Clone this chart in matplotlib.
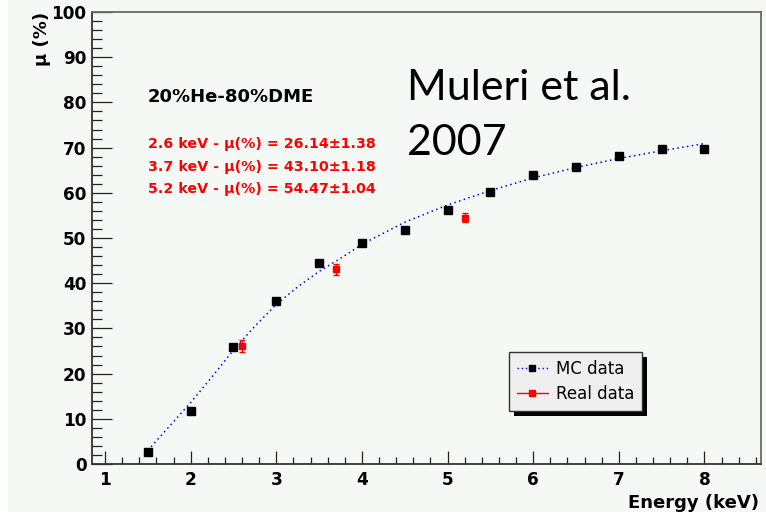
import matplotlib
matplotlib.use("Agg")
import matplotlib.pyplot as plt
from matplotlib.lines import Line2D
from matplotlib.patches import Rectangle

# Monte Carlo modulation factor vs energy
mc_energy = [1.5, 2.0, 2.5, 3.0, 3.5, 4.0, 4.5, 5.0, 5.5, 6.0, 6.5, 7.0, 7.5, 8.0]
mc_mu = [2.6, 11.8, 25.9, 36.0, 44.5, 49.0, 51.8, 56.2, 60.2, 63.9, 65.6, 68.2, 69.7, 69.8]

# Fitted trend through the MC points
fit_energy = [1.5, 2.0, 2.25, 2.5, 2.75, 3.0, 3.25, 3.5, 3.75, 4.0, 4.5, 5.0, 5.5, 6.0, 6.5, 7.0, 7.5, 8.0]
fit_mu = [3.0, 13.6, 19.3, 25.2, 30.5, 35.3, 39.2, 42.6, 45.5, 48.6, 53.5, 57.3, 60.5, 63.3, 65.6, 67.6, 69.3, 70.9]

# Measured values
real_energy = [2.6, 3.7, 5.2]
real_mu = [26.14, 43.10, 54.47]
real_err = [1.38, 1.18, 1.04]

x_ticks = [1, 2, 3, 4, 5, 6, 7, 8]
y_ticks = [0, 10, 20, 30, 40, 50, 60, 70, 80, 90, 100]

BG = "#f5f9f6"
W, H = 766, 517

fig = plt.figure(figsize=(W / 100, H / 100), dpi=100, facecolor=BG)
ax = fig.add_axes([92 / W, 1 - 464 / H, (761 - 92) / W, (464 - 12) / H])
ax.set_facecolor(BG)

ax.plot(fit_energy, fit_mu, linestyle=(0, (1, 2.2)), color="#0000ff", lw=1.1, zorder=2)
ax.plot(mc_energy, mc_mu, linestyle="none", marker="s", ms=5.3, color="black", zorder=3)
ax.errorbar(real_energy, real_mu, yerr=real_err, fmt="s", ms=5.0, color="#ff0000",
            ecolor="#ff0000", elinewidth=1.0, capsize=2.5, capthick=1.0, zorder=4)

ax.set_xlim(0.848, 8.66)
ax.set_ylim(0, 100)
ax.set_xticks(x_ticks)
ax.set_yticks(y_ticks)
ax.set_xticks([v / 10 for v in range(10, 87, 2)], minor=True)
ax.set_yticks(list(range(0, 101, 2)), minor=True)

ax.tick_params(axis="x", which="major", direction="in", length=9.5, width=0.9,
               color="#222222", pad=5, top=False)
ax.tick_params(axis="x", which="minor", direction="in", length=4.7, width=0.9,
               color="#222222", top=False)
ax.tick_params(axis="y", which="major", direction="in", length=14.5, width=0.9,
               color="#222222", pad=4, right=False)
ax.tick_params(axis="y", which="minor", direction="in", length=7.2, width=0.9,
               color="#222222", right=False)
for lab in ax.get_xticklabels() + ax.get_yticklabels():
    lab.set_fontweight("bold")
    lab.set_fontsize(12.2)
    lab.set_fontfamily("DejaVu Sans")

for side in ("left", "bottom"):
    ax.spines[side].set_color("#333333")
    ax.spines[side].set_linewidth(1.3)
for side in ("top", "right"):
    ax.spines[side].set_color("#6a6a6a")
    ax.spines[side].set_linewidth(1.3)

# axis titles
fig.text(759 / W, 1 - 508 / H, "Energy (keV)", ha="right", va="baseline",
         fontsize=13, fontweight="bold", family="DejaVu Sans")
fig.text(42 / W, 1 - 12 / H, "\u03bc (%)", ha="center", va="top", rotation=90,
         fontsize=13, fontweight="bold", family="DejaVu Sans")

# annotations
fig.text(148 / W, 1 - 102 / H, "20%He-80%DME", ha="left", va="baseline",
         fontsize=13, fontweight="bold", family="DejaVu Sans")
lines = [f"{e} keV - \u03bc(%) = {m:.2f}\u00b1{s:.2f}" for e, m, s in zip(real_energy, real_mu, real_err)]
for i, txt in enumerate(lines):
    fig.text(148 / W, 1 - (148 + 22.5 * i) / H, txt, ha="left", va="baseline",
             fontsize=10.3, fontweight="bold", color="#ff0000", family="DejaVu Sans")

fig.text(407 / W, 1 - 100 / H, "Muleri et al.", ha="left", va="baseline",
         fontsize=31, family="Lato", color="black")
fig.text(407 / W, 1 - 155 / H, "2007", ha="left", va="baseline",
         fontsize=31, family="Lato", color="black")

# legend
handles = [
    Line2D([], [], color="#0000ff", linestyle=(0, (1, 2)), lw=1.0, marker="s", ms=4.5,
           markerfacecolor="black", markeredgecolor="black"),
    Line2D([], [], color="#ff0000", linestyle="-", lw=1.0, marker="s", ms=4.5,
           markerfacecolor="#ff0000", markeredgecolor="#ff0000"),
]
leg = fig.legend(handles, ["MC data", "Real data"], loc="upper left",
                 bbox_to_anchor=(509 / W, 1 - 352 / H), bbox_transform=fig.transFigure,
                 prop={"family": "DejaVu Sans", "size": 12}, frameon=True, fancybox=False,
                 shadow=False, borderpad=0.45, handlelength=1.9, handletextpad=0.45,
                 labelspacing=0.45, borderaxespad=0.0)
frame = leg.get_frame()
frame.set_facecolor("#efefef")
frame.set_edgecolor("#333333")
frame.set_linewidth(1.0)
frame.set_alpha(1.0)
leg.set_zorder(10)

fig.canvas.draw()
bb = leg.get_window_extent()
shadow = Rectangle((bb.x0 + 5, bb.y0 - 5), bb.width, bb.height, transform=None,
                   facecolor="black", edgecolor="none", zorder=9)
fig.add_artist(shadow)

# white margins of the canvas
fig.add_artist(Rectangle((0, 0), 8 / W, 1, transform=fig.transFigure,
                         facecolor="white", edgecolor="none", zorder=0))
fig.add_artist(Rectangle((0, 0), 1, 5 / H, transform=fig.transFigure,
                         facecolor="white", edgecolor="none", zorder=0))

fig.savefig("out.png", dpi=100, facecolor=BG)
